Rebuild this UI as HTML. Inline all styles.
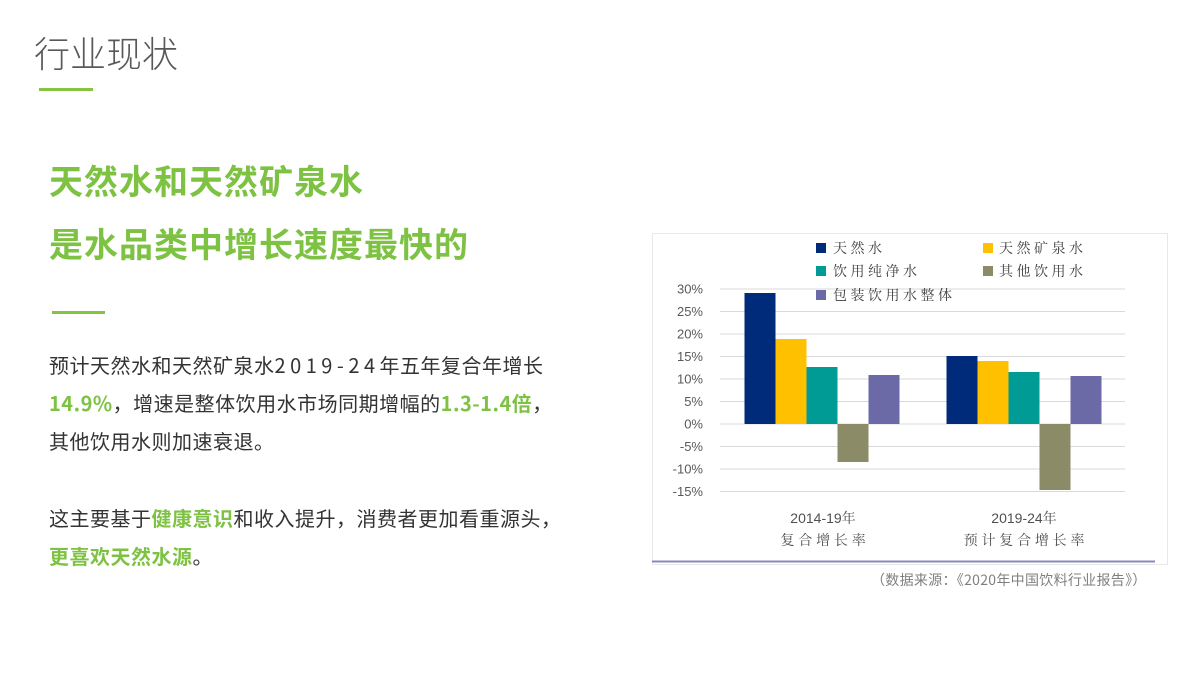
<!DOCTYPE html>
<html>
<head>
<meta charset="utf-8">
<style>
  html,body{margin:0;padding:0;}
  body{width:1200px;height:675px;background:#fff;position:relative;overflow:hidden;
       font-family:"Liberation Sans","Noto Sans CJK SC",sans-serif;}
  .abs{position:absolute;white-space:nowrap;}
  .title{left:34px;top:32px;font-size:36px;line-height:40px;color:#595959;font-weight:300;
         font-family:"Noto Sans CJK SC",sans-serif;letter-spacing:0px;}
  .bar1{left:39px;top:88px;width:54px;height:3px;background:#84c441;}
  .head{left:49px;top:148px;font-size:34px;line-height:63px;color:#7dc243;font-weight:bold;
        font-family:"Noto Sans CJK SC",sans-serif;letter-spacing:1px;}
  .bar2{left:52px;top:311px;width:53px;height:3px;background:#84c441;}
  .body{left:49px;top:346px;font-size:20px;line-height:38.2px;color:#333;
        font-family:"Noto Sans CJK SC",sans-serif;letter-spacing:0.5px;}
  .g{color:#7dc243;font-weight:bold;}
  .num{letter-spacing:4.5px;}
  .src{left:871px;top:570px;font-size:14px;line-height:20px;color:#7f7f7f;
       font-family:"Noto Sans CJK SC",sans-serif;letter-spacing:0.3px;}
</style>
</head>
<body>
<div class="abs title">行业现状</div>
<div class="abs bar1"></div>
<div class="abs head">天然水和天然矿泉水<br>是水品类中增长速度最快的</div>
<div class="abs bar2"></div>
<div class="abs body">预计天然水和天然矿泉水<span class="num">2019-24</span>年五年复合年增长<br><span class="g">14.9%</span>，增速是整体饮用水市场同期增幅的<span class="g">1.3-1.4倍</span>，<br>其他饮用水则加速衰退。<br>&nbsp;<br>这主要基于<span class="g">健康意识</span>和收入提升，消费者更加看重源头，<br><span class="g">更喜欢天然水源</span>。</div>

<svg class="abs" style="left:0;top:0" width="1200" height="675" viewBox="0 0 1200 675">
  <rect x="652.5" y="233.5" width="515" height="331" fill="#fff" stroke="#e8e8e8" stroke-width="1"/>
  <!-- gridlines -->
  <g stroke="#d9d9d9" stroke-width="1">
    <line x1="720" y1="289" x2="1125" y2="289"/>
    <line x1="720" y1="311.5" x2="1125" y2="311.5"/>
    <line x1="720" y1="334" x2="1125" y2="334"/>
    <line x1="720" y1="356.5" x2="1125" y2="356.5"/>
    <line x1="720" y1="379" x2="1125" y2="379"/>
    <line x1="720" y1="401.5" x2="1125" y2="401.5"/>
    <line x1="720" y1="424" x2="1125" y2="424"/>
    <line x1="720" y1="446.5" x2="1125" y2="446.5"/>
    <line x1="720" y1="469" x2="1125" y2="469"/>
    <line x1="720" y1="491.5" x2="1125" y2="491.5"/>
  </g>
  <!-- y labels -->
  <g font-family="Liberation Sans, sans-serif" font-size="13" fill="#595959" text-anchor="end">
    <text x="703" y="293.5">30%</text>
    <text x="703" y="316">25%</text>
    <text x="703" y="338.5">20%</text>
    <text x="703" y="361">15%</text>
    <text x="703" y="383.5">10%</text>
    <text x="703" y="406">5%</text>
    <text x="703" y="428.5">0%</text>
    <text x="703" y="451">-5%</text>
    <text x="703" y="473.5">-10%</text>
    <text x="703" y="496">-15%</text>
  </g>
  <!-- bars group 1 -->
  <rect x="744.5" y="293" width="31" height="131" fill="#002a7a"/>
  <rect x="775.5" y="339" width="31" height="85" fill="#ffc000"/>
  <rect x="806.5" y="367" width="31" height="57" fill="#009b95"/>
  <rect x="837.5" y="424" width="31" height="38" fill="#8c8b67"/>
  <rect x="868.5" y="375" width="31" height="49" fill="#6b69a6"/>
  <!-- bars group 2 -->
  <rect x="946.5" y="356" width="31" height="68" fill="#002a7a"/>
  <rect x="977.5" y="361" width="31" height="63" fill="#ffc000"/>
  <rect x="1008.5" y="372" width="31" height="52" fill="#009b95"/>
  <rect x="1039.5" y="424" width="31" height="66" fill="#8c8b67"/>
  <rect x="1070.5" y="376" width="31" height="48" fill="#6b69a6"/>
  <!-- legend -->
  <rect x="816" y="243" width="10" height="10" fill="#002a7a"/>
  <rect x="983" y="243" width="10" height="10" fill="#ffc000"/>
  <rect x="816" y="266" width="10" height="10" fill="#009b95"/>
  <rect x="983" y="266" width="10" height="10" fill="#8c8b67"/>
  <rect x="816" y="290" width="10" height="10" fill="#6b69a6"/>
  <g font-family="Noto Serif CJK SC, serif" font-size="14" fill="#404040" letter-spacing="3.5">
    <text x="833" y="253">天然水</text>
    <text x="999" y="253">天然矿泉水</text>
    <text x="833" y="276">饮用纯净水</text>
    <text x="999" y="276">其他饮用水</text>
    <text x="833" y="300">包装饮用水整体</text>
  </g>
  <!-- category labels -->
  <g font-size="14" fill="#505050" text-anchor="middle">
    <text x="823" y="523" font-family="Liberation Sans, Noto Serif CJK SC, serif">2014-19年</text>
    <text x="825" y="545" font-family="Noto Serif CJK SC, serif" letter-spacing="3.8">复合增长率</text>
    <text x="1024" y="523" font-family="Liberation Sans, Noto Serif CJK SC, serif">2019-24年</text>
    <text x="1026" y="545" font-family="Noto Serif CJK SC, serif" letter-spacing="3.8">预计复合增长率</text>
  </g>
  <line x1="652" y1="561.5" x2="1155" y2="561.5" stroke="#8a88b8" stroke-width="2"/>
</svg>
<div class="abs src">（数据来源：《2020年中国饮料行业报告》）</div>
</body>
</html>
